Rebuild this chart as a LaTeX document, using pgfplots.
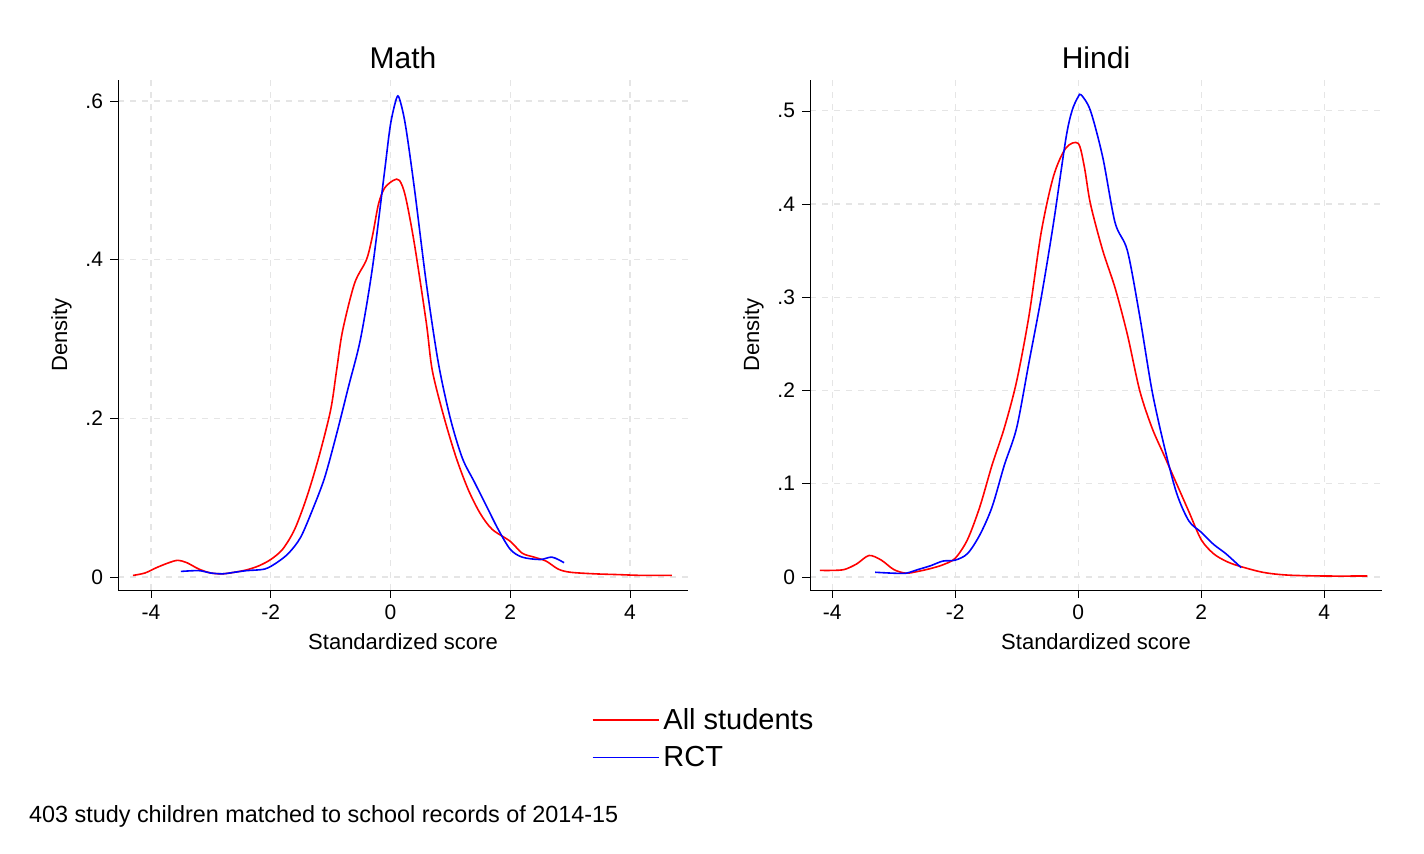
\documentclass[border=0pt]{standalone}
\usepackage{fontspec}
\setmainfont{Liberation Sans}
\usepackage{pgfplots}
\pgfplotsset{compat=1.18}
\begin{document}
\begin{tikzpicture}
\path[use as bounding box] (0,0) rectangle (712pt,427pt);
\pgfplotsset{every axis/.style={scale only axis, height=255pt,
  axis x line*=bottom, axis y line*=left, grid=major,
  major grid style={dashed, gray!20, line width=0.6pt},
  tick style={black}, tick align=outside, major tick length=4pt,
  tick label style={font=\fontsize{10.5}{12}\selectfont},
  label style={font=\fontsize{11}{13}\selectfont},
  title style={font=\fontsize{15}{17}\selectfont, yshift=-4pt},
  xtick={-4,-2,0,2,4}, xticklabels={-4,-2,0,2,4},
  xlabel={Standardized score}, ylabel={Density},
  every axis plot/.append style={smooth, line width=0.8pt}}}
\begin{axis}[at={(59pt,132pt)}, width=285pt, xmin=-4.55, xmax=4.97, ymin=-0.0164, ymax=0.6265,
  title={Math}, ytick={0,0.2,0.4,0.6}, yticklabels={0,.2,.4,.6},
  legend style={at={(0.82,-0.215)}, anchor=north west, draw=none, font=\fontsize{14.5}{20}\selectfont, row sep=3pt},
  legend cell align=left,
  legend image code/.code={\draw[#1, line width=0.8pt] (0pt,0pt) -- (33pt,0pt);}]
\addplot[red] coordinates {(-4.3,0.002)(-4.1,0.005)(-3.9,0.012)(-3.7,0.018)(-3.55,0.021)(-3.4,0.018)(-3.2,0.01)(-3.0,0.005)(-2.8,0.004)(-2.6,0.006)(-2.4,0.009)(-2.2,0.014)(-2.0,0.022)(-1.8,0.035)(-1.6,0.06)(-1.4,0.1)(-1.2,0.15)(-1.0,0.21)(-0.9,0.26)(-0.8,0.31)(-0.6,0.37)(-0.4,0.4)(-0.3,0.43)(-0.2,0.47)(-0.1,0.49)(0.05,0.5)(0.15,0.5)(0.25,0.48)(0.4,0.42)(0.6,0.32)(0.7,0.26)(0.9,0.2)(1.1,0.15)(1.3,0.11)(1.5,0.08)(1.7,0.06)(2.0,0.045)(2.2,0.03)(2.4,0.025)(2.6,0.02)(2.8,0.01)(3.0,0.006)(3.4,0.004)(3.8,0.003)(4.2,0.002)(4.7,0.002)};
\addlegendentry{All students}
\addplot[blue] coordinates {(-3.5,0.007)(-3.2,0.008)(-3.0,0.005)(-2.8,0.004)(-2.6,0.006)(-2.4,0.008)(-2.1,0.01)(-1.9,0.018)(-1.7,0.03)(-1.5,0.05)(-1.3,0.085)(-1.1,0.125)(-0.9,0.18)(-0.7,0.24)(-0.5,0.3)(-0.3,0.39)(-0.1,0.51)(0,0.57)(0.1,0.603)(0.15,0.603)(0.25,0.57)(0.4,0.49)(0.6,0.37)(0.8,0.27)(1.0,0.2)(1.2,0.15)(1.4,0.12)(1.6,0.09)(1.8,0.06)(2.0,0.035)(2.2,0.025)(2.5,0.022)(2.7,0.025)(2.9,0.018)};
\addlegendentry{RCT}
\end{axis}
\begin{axis}[at={(405pt,132pt)}, width=286pt, xmin=-4.36, xmax=4.94, ymin=-0.014, ymax=0.533,
  title={Hindi}, ytick={0,0.1,0.2,0.3,0.4,0.5}, yticklabels={0,.1,.2,.3,.4,.5}]
\addplot[red] coordinates {(-4.2,0.007)(-4.0,0.007)(-3.8,0.008)(-3.6,0.014)(-3.4,0.023)(-3.2,0.018)(-3.0,0.008)(-2.8,0.004)(-2.6,0.006)(-2.4,0.009)(-2.2,0.013)(-2.0,0.02)(-1.8,0.04)(-1.6,0.075)(-1.4,0.12)(-1.2,0.16)(-1.0,0.21)(-0.8,0.28)(-0.6,0.37)(-0.4,0.43)(-0.2,0.46)(0,0.465)(0.1,0.44)(0.2,0.4)(0.4,0.35)(0.6,0.31)(0.8,0.26)(1.0,0.2)(1.2,0.16)(1.4,0.13)(1.6,0.1)(1.8,0.07)(2.0,0.04)(2.2,0.025)(2.4,0.017)(2.6,0.012)(3.0,0.005)(3.4,0.002)(4.0,0.001)(4.7,0.001)};
\addplot[blue] coordinates {(-3.3,0.005)(-3.0,0.004)(-2.8,0.004)(-2.6,0.008)(-2.4,0.012)(-2.2,0.017)(-2.0,0.018)(-1.8,0.025)(-1.6,0.045)(-1.4,0.075)(-1.2,0.12)(-1.0,0.16)(-0.8,0.23)(-0.6,0.3)(-0.4,0.38)(-0.2,0.47)(-0.1,0.5)(0,0.515)(0.05,0.517)(0.2,0.5)(0.4,0.45)(0.6,0.38)(0.8,0.35)(1.0,0.28)(1.2,0.2)(1.4,0.14)(1.6,0.09)(1.8,0.06)(2.0,0.048)(2.2,0.035)(2.4,0.025)(2.65,0.01)};
\end{axis}
\node[anchor=west, font=\fontsize{11.7}{13}\selectfont] at (11pt,19pt) {403 study children matched to school records of 2014-15};
\end{tikzpicture}
\end{document}
